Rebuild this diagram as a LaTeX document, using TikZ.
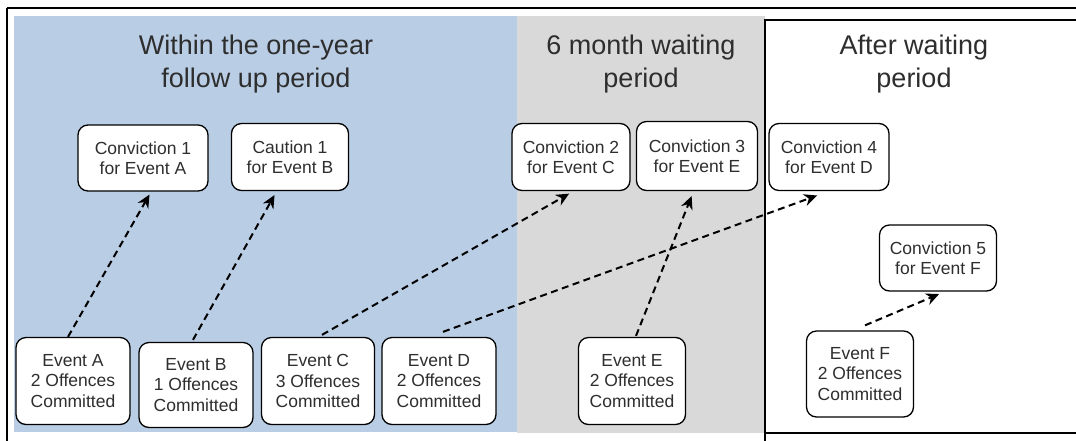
\documentclass[tikz,border=0pt]{standalone}
\usepackage{fontspec}
\setmainfont{Liberation Sans}
\usetikzlibrary{calc,arrows.meta}
\definecolor{bluebg}{HTML}{B9CDE5}
\definecolor{graybg}{HTML}{D9D9D9}
\definecolor{txt}{HTML}{2E2E2E}
\tikzset{
  evbox/.style={draw=black, line width=1.3pt, rounded corners=10pt, fill=white,
    text=txt, align=center, inner sep=0pt,
    font=\fontsize{17.5}{20.5}\selectfont},
  title/.style={text=txt, align=center, font=\fontsize{27}{33}\selectfont},
  link/.style={dashed, dash pattern=on 7pt off 4.5pt, line width=2pt,
    -{Stealth[length=13pt,width=12pt]}, shorten >=1pt},
}
\begin{document}
\begin{tikzpicture}[x=1pt,y=-1pt]
\useasboundingbox (0,0) rectangle (1076,440);
\begin{scope}
\clip (0,0) rectangle (1076,440);
% outer frame
\draw[line width=1.3pt] (7,8) -- (1090,8);
\draw[line width=1.3pt] (7,8) -- (7,450);
% regions
\fill[bluebg] (14,16) rectangle (517,432);
\fill[graybg] (517,16) rectangle (765,433);
\draw[line width=1.3pt, fill=white] (765,450) -- (765,20) -- (1090,20) -- (1090,433) -- (765,433);
\end{scope}
% titles
\node[title] (t1) at (256,64) {Within the one-year\\follow up period};
\node[title] (t2) at (641,64) {6 month waiting\\period};
\node[title] (t3) at (914,64) {After waiting\\period};
% outcome boxes
\node[evbox, minimum width=130pt, minimum height=66pt] (c1) at (143,158) {Conviction 1\\for Event A};
\node[evbox, minimum width=117pt, minimum height=67pt] (cb) at (290,157) {Caution 1\\for Event B};
\node[evbox, minimum width=118pt, minimum height=67pt] (c2) at (571,157) {Conviction 2\\for Event C};
\node[evbox, minimum width=121pt, minimum height=69pt] (c3) at (697,156) {Conviction 3\\for Event E};
\node[evbox, minimum width=120pt, minimum height=67pt] (c4) at (829,157) {Conviction 4\\for Event D};
\node[evbox, minimum width=117pt, minimum height=66pt] (c5) at (938,258) {Conviction 5\\for Event F};
% event boxes
\node[evbox, minimum width=114pt, minimum height=87pt] (ea) at (73,381) {Event A\\2 Offences\\Committed};
\node[evbox, minimum width=114pt, minimum height=85pt] (eb) at (196,385) {Event B\\1 Offences\\Committed};
\node[evbox, minimum width=113pt, minimum height=87pt] (ec) at (318,381) {Event C\\3 Offences\\Committed};
\node[evbox, minimum width=114pt, minimum height=87pt] (ed) at (439,381) {Event D\\2 Offences\\Committed};
\node[evbox, minimum width=107pt, minimum height=87pt] (ee) at (632,381) {Event E\\2 Offences\\Committed};
\node[evbox, minimum width=107pt, minimum height=86pt] (ef) at (860,374) {Event F\\2 Offences\\Committed};
% links
\draw[link] ($(ea.north)+(-5,0)$) -- ($(c1.south)+(7,2)$);
\draw[link] ($(eb.north)+(-3,-2)$) -- ($(cb.south)+(-15,3)$);
\draw[link] ($(ec.north)+(4,-2)$) -- ($(c2.south)+(-1,2)$);
\draw[link] ($(ed.north)+(4,-5)$) -- ($(c4.south)+(-11,4)$);
\draw[link] ($(ee.north)+(4,-1)$) -- ($(c3.south)+(-5,4)$);
\draw[link] ($(ef.north)+(5,-5)$) -- ($(c5.south)+(2,2)$);
\end{tikzpicture}
\end{document}
